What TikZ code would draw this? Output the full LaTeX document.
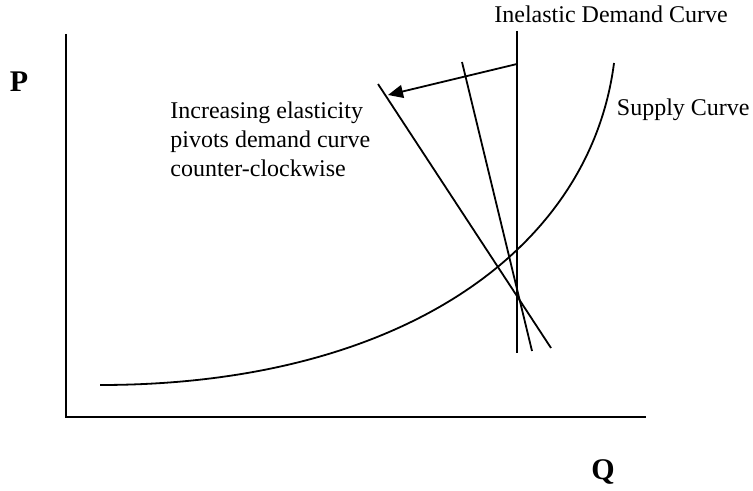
\documentclass[tikz,border=0pt]{standalone}
\usepackage{fontspec}
\setmainfont{Liberation Serif}
\usetikzlibrary{arrows.meta}

\begin{document}
\begin{tikzpicture}[
    x=0.5pt, y=-0.5pt,
    >={Triangle[length=7.5pt, width=6.5pt]},
    curve/.style={line width=0.9pt},
    lbl/.style={font=\fontsize{12}{14.6}\selectfont, inner sep=0pt},
    axislbl/.style={font=\fontsize{15}{18}\selectfont\bfseries, inner sep=0pt}
  ]
  \useasboundingbox (0,0) rectangle (753,491);

  % axes
  \coordinate (o) at (66,417);
  \coordinate (ytop) at (66,34);
  \coordinate (xend) at (646,417);
  \draw[curve, line width=1.1pt] (ytop) -- (o) -- (xend);
  \node[axislbl] (p) at (19,82) {P};
  \node[axislbl] (q) at (603,472) {Q};

  % supply
  \coordinate (s0) at (100,385);
  \coordinate (s1) at (614,63);
  \draw[curve] (s0) .. controls (400,385) and (590,250) .. (s1);
  \node[lbl, anchor=base east] (slbl) at (750,116) {Supply Curve};

  % demand curves
  \coordinate (d0top) at (517,31);
  \coordinate (d0bot) at (517,353);
  \coordinate (d1top) at (462,62);
  \coordinate (d1bot) at (532,351);
  \coordinate (d2top) at (378,84);
  \coordinate (d2bot) at (551,348);
  \draw[curve] (d0top) -- (d0bot);
  \draw[curve] (d1top) -- (d1bot);
  \draw[curve] (d2top) -- (d2bot);
  \node[lbl] (dlbl) at (611,14) {Inelastic Demand Curve};

  % pivot
  \coordinate (pstart) at (517,64);
  \coordinate (ptip) at (388,95);
  \draw[->, curve] (pstart) -- (ptip);
  \node[lbl, anchor=north west, align=left] (plbl) at (170,101)
    {Increasing elasticity\\pivots demand curve\\counter-clockwise};
\end{tikzpicture}
\end{document}
